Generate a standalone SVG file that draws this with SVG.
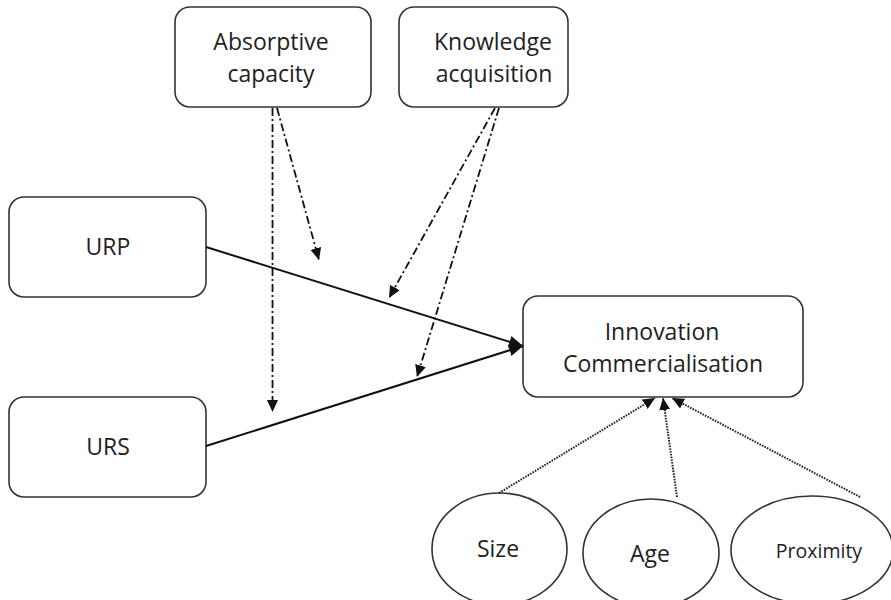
<svg xmlns="http://www.w3.org/2000/svg" width="891" height="600" viewBox="0 0 891 600">
<defs>
<style>
.box{fill:#fff;stroke:#333;stroke-width:1.6}
.lbl{font-family:"Open Sans","Liberation Sans",sans-serif;font-size:23px;fill:#222;text-anchor:middle}
.small{font-size:19.5px}
.main{stroke:#111;stroke-width:2;fill:none}
.dd{stroke:#111;stroke-width:1.8;fill:none;stroke-dasharray:8 3 2 3}
.dot{stroke:#222;stroke-width:2;fill:none;stroke-dasharray:1.6 1.2}
</style>
<marker id="aBig" viewBox="0 0 14 12" refX="14" refY="6" markerWidth="14" markerHeight="12" markerUnits="userSpaceOnUse" orient="auto"><path d="M0,0 L14,6 L0,12 z" fill="#111"/></marker>
<marker id="aMid" viewBox="0 0 12 11" refX="12" refY="5.5" markerWidth="12" markerHeight="11" markerUnits="userSpaceOnUse" orient="auto"><path d="M0,0 L12,5.5 L0,11 z" fill="#111"/></marker>
</defs>
<rect width="891" height="600" fill="#fff"/>
<g id="absorptive">
<rect class="box" x="175" y="7" width="196" height="100" rx="15"/>
<text class="lbl" x="271" y="50">Absorptive</text>
<text class="lbl" x="271" y="82">capacity</text>
</g>
<g id="knowledge">
<rect class="box" x="399" y="7" width="169" height="100" rx="15"/>
<text class="lbl" x="493" y="50">Knowledge</text>
<text class="lbl" x="494" y="82">acquisition</text>
</g>
<g id="urp">
<rect class="box" x="9" y="197" width="197" height="100" rx="15"/>
<text class="lbl" x="108" y="255">URP</text>
</g>
<g id="urs">
<rect class="box" x="9" y="397" width="197" height="100" rx="15"/>
<text class="lbl" x="108" y="455">URS</text>
</g>
<g id="innovation">
<rect class="box" x="523" y="296" width="280" height="101" rx="15"/>
<text class="lbl" x="662" y="340">Innovation</text>
<text class="lbl" x="663" y="372">Commercialisation</text>
</g>
<g id="size">
<ellipse class="box" cx="499.5" cy="549" rx="67.5" ry="56"/>
<text class="lbl" x="498" y="557">Size</text>
</g>
<g id="age">
<ellipse class="box" cx="651" cy="553" rx="68" ry="54"/>
<text class="lbl" x="650" y="562">Age</text>
</g>
<g id="proximity">
<ellipse class="box" cx="812" cy="550" rx="81" ry="54"/>
<text class="lbl small" x="819" y="558">Proximity</text>
</g>
<g id="connectors">
<line class="main" x1="206" y1="247" x2="523" y2="346" marker-end="url(#aBig)"/>
<line class="main" x1="206" y1="446" x2="523" y2="346" marker-end="url(#aBig)"/>
<line class="dd" x1="272.5" y1="108" x2="272.5" y2="412" marker-end="url(#aMid)"/>
<line class="dd" x1="277" y1="108" x2="319" y2="260" marker-end="url(#aMid)"/>
<line class="dd" x1="495" y1="108" x2="389" y2="298" marker-end="url(#aMid)"/>
<line class="dd" x1="499" y1="108" x2="417" y2="377" marker-end="url(#aMid)"/>
<line class="dot" x1="499" y1="493" x2="655" y2="398" marker-end="url(#aMid)"/>
<line class="dot" x1="677" y1="497" x2="663" y2="398" marker-end="url(#aMid)"/>
<line class="dot" x1="860" y1="497" x2="672" y2="398" marker-end="url(#aMid)"/>
</g>
</svg>
